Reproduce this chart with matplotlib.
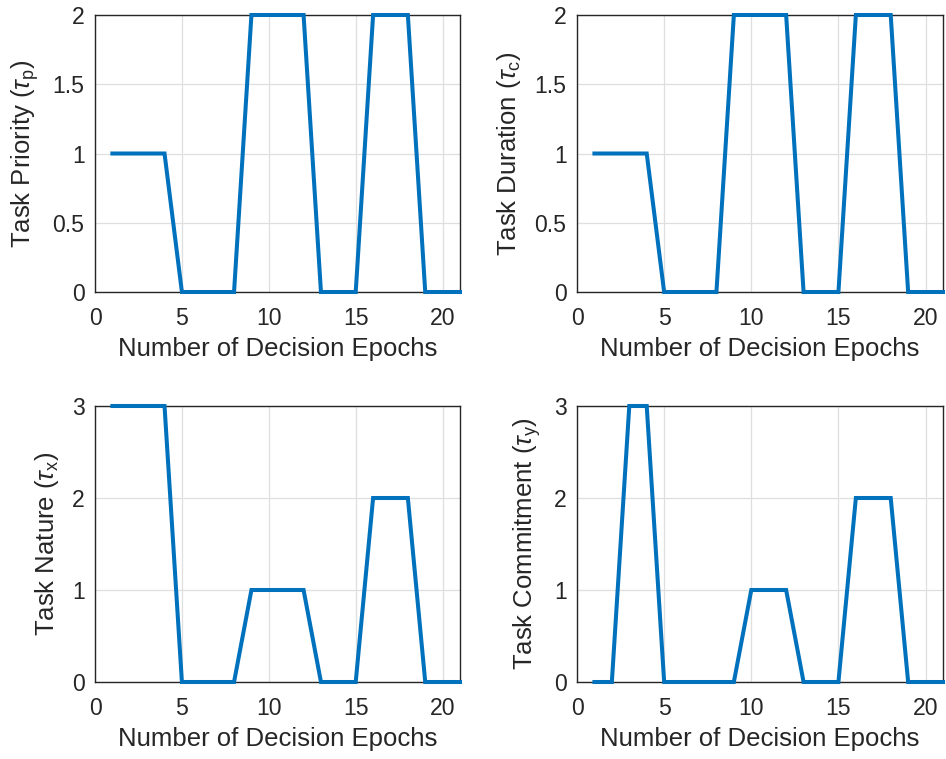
import matplotlib
matplotlib.use("Agg")
import matplotlib.pyplot as plt

plt.rcParams['font.family'] = ['Liberation Sans', 'DejaVu Sans']
plt.rcParams['mathtext.fontset'] = 'custom'
plt.rcParams['mathtext.rm'] = 'Liberation Sans'
plt.rcParams['mathtext.it'] = 'Liberation Sans:italic'

epochs = list(range(1, 22))
task_priority = [1, 1, 1, 1, 0, 0, 0, 0, 2, 2, 2, 2, 0, 0, 0, 2, 2, 2, 0, 0, 0]
task_duration = [1, 1, 1, 1, 0, 0, 0, 0, 2, 2, 2, 2, 0, 0, 0, 2, 2, 2, 0, 0, 0]
task_nature = [3, 3, 3, 3, 0, 0, 0, 0, 1, 1, 1, 1, 0, 0, 0, 2, 2, 2, 0, 0, 0]
task_commitment = [0, 0, 3, 3, 0, 0, 0, 0, 0, 1, 1, 1, 0, 0, 0, 2, 2, 2, 0, 0, 0]

ylabels = [r'Task Priority ($\tau_{\rm p}$)', r'Task Duration ($\tau_{\rm c}$)',
           r'Task Nature ($\tau_{\rm x}$)', r'Task Commitment ($\tau_{\rm y}$)']
xlabel = 'Number of Decision Epochs'
xticks = [0, 5, 10, 15, 20]
yticks_top = [0, 0.5, 1, 1.5, 2]
yticklabels_top = ['0', '0.5', '1', '1.5', '2']
yticks_bot = [0, 1, 2, 3]
yticklabels_bot = ['0', '1', '2', '3']

series = [task_priority, task_duration, task_nature, task_commitment]

fig = plt.figure(figsize=(9.46, 7.59), dpi=100)
positions = [
    [95/946, 1-292/759, 365/946, 277/759],
    [577/946, 1-292/759, 366/946, 277/759],
    [95/946, 1-682/759, 365/946, 276/759],
    [577/946, 1-682/759, 366/946, 276/759],
]
dark = '#262626'
for i, (pos, y, yl) in enumerate(zip(positions, series, ylabels)):
    ax = fig.add_axes(pos)
    ax.plot(epochs, y, color='#0072BD', lw=2.9, solid_joinstyle='miter', clip_on=False, zorder=3)
    ax.set_xlim(0, 21)
    if i < 2:
        ax.set_ylim(0, 2)
        ax.set_yticks(yticks_top)
        ax.set_yticklabels(yticklabels_top)
    else:
        ax.set_ylim(0, 3)
        ax.set_yticks(yticks_bot)
        ax.set_yticklabels(yticklabels_bot)
    ax.set_xticks(xticks)
    ax.grid(True, color='#dfdfdf', lw=0.9)
    ax.set_axisbelow(True)
    for s in ax.spines.values():
        s.set_color(dark)
        s.set_linewidth(1.0)
        s.set_zorder(2.5)
    ax.tick_params(direction='in', length=0, labelsize=16.6, colors=dark)
    ax.tick_params(axis='x', pad=11)
    ax.tick_params(axis='y', pad=7.5)
    ax.set_xlabel(xlabel, fontsize=18.5, color=dark, labelpad=5)
    ax.set_ylabel(yl, fontsize=18.5, color=dark, labelpad=8)

fig.savefig('out.png', dpi=100)
